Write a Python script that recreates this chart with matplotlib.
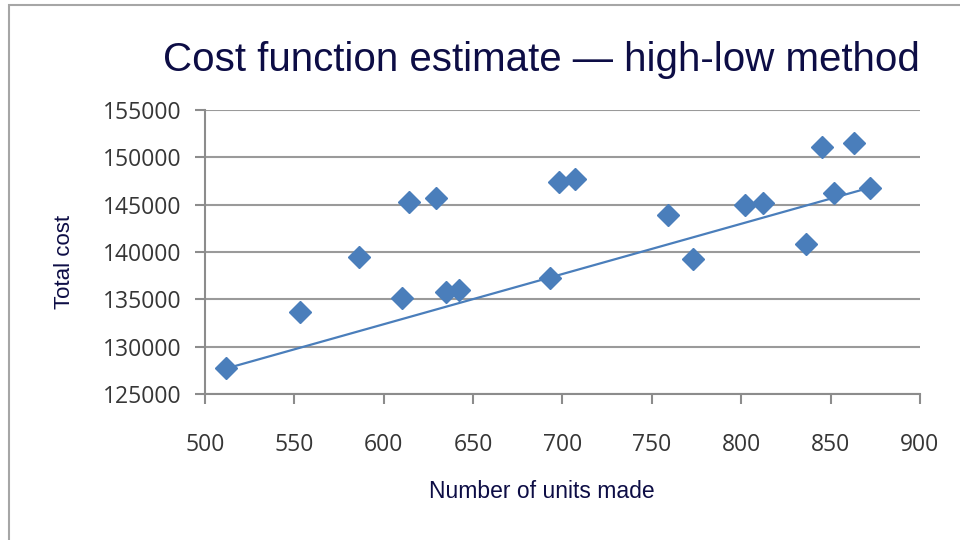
import matplotlib
matplotlib.use("Agg")
import matplotlib.pyplot as plt
from matplotlib.patches import Rectangle

units = [512, 553, 586, 610, 614, 629, 635, 642, 693, 698, 707,
         759, 773, 802, 812, 836, 845, 852, 863, 872]
cost = [127700, 133700, 139500, 135100, 145250, 145670, 135800, 135990,
        137220, 147430, 147680, 143910, 139230, 144970, 145210, 140810,
        151130, 146270, 151550, 146800]
# high-low line: lowest activity point to highest activity point
line_x = [512, 872]
line_y = [127700, 146800]

xticks = [500, 550, 600, 650, 700, 750, 800, 850, 900]
yticks = [125000, 130000, 135000, 140000, 145000, 150000, 155000]

plt.rcParams['font.family'] = ['Liberation Sans', 'DejaVu Sans']

fig = plt.figure(figsize=(9.6, 5.4), dpi=100)
fig.patch.set_facecolor('white')
fig.patches.append(Rectangle((0.009, -0.2), 2.0, 1.1906, transform=fig.transFigure,
                             fill=False, edgecolor='#a6a6a6', linewidth=1.5))

ax = fig.add_axes([0.2135, 0.2704, 0.7448, 0.5259])
blue = '#4a7ebb'
ax.set_xlim(500, 900)
ax.set_ylim(125000, 155000)
ax.set_xticks(xticks)
ax.set_yticks(yticks)
tickfont = dict(family=['Open Sans', 'DejaVu Sans'], size=16.5)
ax.set_xticklabels([str(t) for t in xticks], **tickfont)
ax.set_yticklabels([str(t) for t in yticks], **tickfont)

ax.grid(axis='y', color='#9a9a9a', linewidth=1.5)
ax.set_axisbelow(True)
for s in ['top', 'right']:
    ax.spines[s].set_visible(False)
for s in ['left', 'bottom']:
    ax.spines[s].set_color('#8c8c8c')
    ax.spines[s].set_linewidth(1.5)
ax.tick_params(axis='both', direction='out', length=7, width=1.5, color='#8c8c8c',
               labelcolor='#363636')
ax.tick_params(axis='x', pad=21)
ax.tick_params(axis='y', pad=10)

ax.plot(line_x, line_y, color=blue, linewidth=1.6, zorder=2)
ax.plot(units, cost, linestyle='none', marker='D', markersize=11,
        color=blue, markeredgecolor=blue, zorder=3)

navy = '#0d0d45'
fig.text(0.564, 0.888, 'Cost function estimate \u2014 high-low method', ha='center', va='center',
         fontsize=29, color=navy)
fig.text(0.564, 1 - 492 / 540, 'Number of units made', ha='center', va='center',
         fontsize=16.5, color=navy)
fig.text(65 / 960, 1 - 262 / 540, 'Total cost', ha='center', va='center', rotation=90,
         fontsize=16, color=navy)

fig.savefig('out.png', dpi=100)
